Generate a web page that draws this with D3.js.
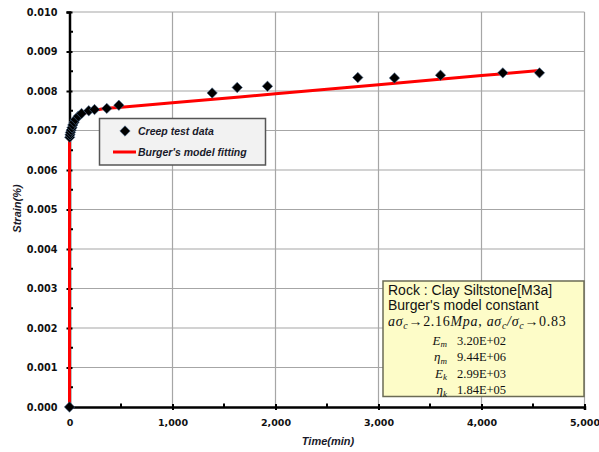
<!DOCTYPE html>
<html>
<head>
<meta charset="utf-8">
<script src="https://cdn.jsdelivr.net/npm/d3@7/dist/d3.min.js"></script>
<style>
  html, body { margin: 0; padding: 0; background: #fff; }
  svg { display: block; }
</style>
</head>
<body>
<svg id="chart" width="599" height="452"></svg>
<script>
// Creep test measurements: time (min) and strain (%)
const testTime   = [0, 2, 5, 9, 16, 24, 32, 45, 58, 85, 117, 187, 243, 362, 479, 1385, 1628, 1922, 2799, 3155, 3602, 4207, 4563];
const testStrain = [0, 0.00683, 0.00689, 0.00695, 0.00701, 0.00707, 0.00714, 0.00721, 0.00728, 0.00736, 0.00743, 0.00750, 0.00753, 0.00756, 0.00764, 0.00795, 0.00809, 0.00812, 0.00834, 0.00833, 0.00840, 0.00846, 0.00846];

// Burger's model fitting curve (time, strain)
const fitTime   = [0, 0, 10, 20, 40, 60, 100, 150, 200, 300, 500, 1000, 2000, 3000, 4000, 4563];
const fitStrain = [0, 0.00675, 0.00686, 0.00695, 0.00710, 0.00721, 0.00735, 0.00744, 0.00749, 0.00754, 0.00759, 0.00770, 0.00793, 0.00816, 0.00839, 0.00852];

const xTicks = [0, 1000, 2000, 3000, 4000, 5000];
const yTicks = [0, 0.001, 0.002, 0.003, 0.004, 0.005, 0.006, 0.007, 0.008, 0.009, 0.010];

const legendLabels = ["Creep test data", "Burger's model fitting"];

// Model constants shown in the note box
const paramSymbols = ["E", "η", "E", "η"];
const paramSubs    = ["m", "m", "k", "k"];
const paramValues  = ["3.20E+02", "9.44E+06", "2.99E+03", "1.84E+05"];

const svg = d3.select("#chart");
const x = d3.scaleLinear().domain([0, 5000]).range([69.5, 584.5]);
const y = d3.scaleLinear().domain([0, 0.010]).range([407, 12]);

const tickFont = "'DejaVu Sans', Verdana, sans-serif";
const titleFont = "'Liberation Sans', Arial, sans-serif";
const ink = "#111";

// Gridlines
svg.append("g").selectAll("line.h").data(yTicks.slice(1)).join("line")
  .attr("x1", x(0)).attr("x2", x(5000))
  .attr("y1", d => y(d)).attr("y2", d => y(d))
  .attr("stroke", "#a6a6a6").attr("stroke-width", 1.2);
svg.append("g").selectAll("line.v").data(xTicks.slice(1)).join("line")
  .attr("x1", d => x(d)).attr("x2", d => x(d))
  .attr("y1", y(0)).attr("y2", y(0.010))
  .attr("stroke", "#a6a6a6").attr("stroke-width", 1.2);

// Y axis
const yAxis = d3.axisLeft(y).tickValues(yTicks).tickSize(3).tickPadding(9)
  .tickFormat(d3.format(".3f"));
const gy = svg.append("g").attr("transform", `translate(${x(0)},0)`).call(yAxis);
gy.select(".domain").attr("stroke", "#000").attr("stroke-width", 2.5);
gy.selectAll(".tick line").attr("stroke", "#000").attr("stroke-width", 2).attr("x2", -3).attr("x1", 3);
gy.selectAll(".tick text").attr("font-family", tickFont).attr("font-weight", "bold")
  .attr("font-size", "9.7px").attr("fill", ink);
// minor y ticks
svg.append("g").selectAll("line").data(d3.range(0.0005, 0.010, 0.001)).join("line")
  .attr("x1", x(0)).attr("x2", x(0) + 3.5)
  .attr("y1", d => y(d)).attr("y2", d => y(d))
  .attr("stroke", "#000").attr("stroke-width", 2);

// X axis
const xAxis = d3.axisBottom(x).tickValues(xTicks).tickSize(3).tickPadding(9)
  .tickFormat(d3.format(",d"));
const gx = svg.append("g").attr("transform", `translate(0,${y(0)})`).call(xAxis);
gx.select(".domain").attr("stroke", "#000").attr("stroke-width", 2.5);
gx.selectAll(".tick line").attr("stroke", "#000").attr("stroke-width", 2).attr("y1", -3).attr("y2", 3);
gx.selectAll(".tick text").attr("font-family", tickFont).attr("font-weight", "bold")
  .attr("font-size", "9.5px").attr("fill", ink);
// minor x ticks
svg.append("g").selectAll("line").data(d3.range(500, 5000, 1000)).join("line")
  .attr("x1", d => x(d)).attr("x2", d => x(d))
  .attr("y1", y(0)).attr("y2", y(0) - 3.5)
  .attr("stroke", "#000").attr("stroke-width", 2);

// Axis titles
svg.append("text").attr("x", 328).attr("y", 445).attr("text-anchor", "middle")
  .attr("font-family", titleFont).attr("font-weight", "bold").attr("font-style", "italic")
  .attr("font-size", "11px").attr("fill", "#1a1a2a").text("Time(min)");
svg.append("text").attr("transform", "translate(21,208.5) rotate(-90)").attr("text-anchor", "middle")
  .attr("font-family", titleFont).attr("font-weight", "bold").attr("font-style", "italic")
  .attr("font-size", "11px").attr("fill", "#1a1a2a").text("Strain(%)");

// Fitted curve
const fit = fitTime.map((t, i) => [t, fitStrain[i]]);
const line = d3.line().x(d => x(d[0])).y(d => y(d[1])).curve(d3.curveMonotoneX);
svg.append("path").datum(fit.slice(1))
  .attr("d", line).attr("fill", "none").attr("stroke", "#ff0000").attr("stroke-width", 3);
svg.append("line")
  .attr("x1", x(fitTime[0])).attr("x2", x(fitTime[1]))
  .attr("y1", y(fitStrain[0])).attr("y2", y(fitStrain[1]))
  .attr("stroke", "#ff0000").attr("stroke-width", 3);

// Test data markers
const diamond = d3.symbol().type(d3.symbolSquare).size(54);
svg.append("g").selectAll("path").data(testTime.map((t, i) => [t, testStrain[i]])).join("path")
  .attr("d", diamond)
  .attr("transform", d => `translate(${x(d[0])},${y(d[1])}) rotate(45)`)
  .attr("fill", "#000").attr("stroke", "#4a6a90").attr("stroke-width", 0.8).attr("stroke-opacity", 0.7);

// Legend
const lg = svg.append("g");
lg.append("rect").attr("x", 99.5).attr("y", 118.5).attr("width", 166).attr("height", 46.5)
  .attr("fill", "#f2f2f2").attr("stroke", "#555").attr("stroke-width", 1.5);
lg.append("path").attr("d", diamond).attr("transform", "translate(125,131) rotate(45)")
  .attr("fill", "#000").attr("stroke", "#4a6a90").attr("stroke-width", 0.8).attr("stroke-opacity", 0.7);
lg.append("line").attr("x1", 113).attr("x2", 136).attr("y1", 152).attr("y2", 152)
  .attr("stroke", "#ff0000").attr("stroke-width", 3);
lg.selectAll("text").data(legendLabels).join("text")
  .attr("x", 138).attr("y", (d, i) => 134.5 + i * 21.5)
  .attr("font-family", titleFont).attr("font-weight", "bold").attr("font-style", "italic")
  .attr("font-size", "10.5px").attr("fill", "#1a1a2a").text(d => d);

// Note box with model constants
const nb = svg.append("g");
nb.append("rect").attr("x", 383).attr("y", 281).attr("width", 201).attr("height", 115.5)
  .attr("fill", "#fdfcc8").attr("stroke", "#6b6b55").attr("stroke-width", 1.5);
const sans = "'Liberation Sans', Arial, sans-serif";
const serif = "'Liberation Serif', 'Times New Roman', serif";
nb.append("text").attr("x", 388).attr("y", 295).attr("font-family", sans).attr("font-size", "14px")
  .attr("fill", "#111").text("Rock : Clay Siltstone[M3a]");
nb.append("text").attr("x", 388).attr("y", 310).attr("font-family", sans).attr("font-size", "14px")
  .attr("fill", "#111").text("Burger's model constant");

const eq = nb.append("text").attr("x", 388).attr("y", 326).attr("font-family", serif)
  .attr("font-size", "14px").attr("letter-spacing", "0.7px").attr("fill", "#111");
const part = (txt, opts = {}) => {
  const t = eq.append("tspan").text(txt);
  if (opts.italic) t.attr("font-style", "italic");
  if (opts.sub) t.attr("font-size", "10px").attr("dy", 3);
  if (opts.up) t.attr("dy", -3);
  return t;
};
part("aσ", { italic: true }); part("c", { italic: true, sub: true }); part("→2.16", { up: true });
part("Mpa", { italic: true }); part(", "); part("aσ", { italic: true }); part("c", { italic: true, sub: true });
part("/σ", { italic: true, up: true }); part("c", { italic: true, sub: true }); part("→0.83", { up: true });

paramValues.forEach((v, i) => {
  const by = 344.5 + i * 16.5;
  const s = nb.append("text").attr("x", 447).attr("y", by).attr("text-anchor", "end")
    .attr("font-family", serif).attr("font-size", "13px").attr("font-style", "italic").attr("fill", "#111");
  s.append("tspan").text(paramSymbols[i]);
  s.append("tspan").attr("font-size", "9px").attr("dy", 2.5).text(paramSubs[i]);
  nb.append("text").attr("x", 457).attr("y", by).attr("font-family", serif).attr("font-size", "12.5px")
    .attr("fill", "#111").text(v);
});
</script>
</body>
</html>
